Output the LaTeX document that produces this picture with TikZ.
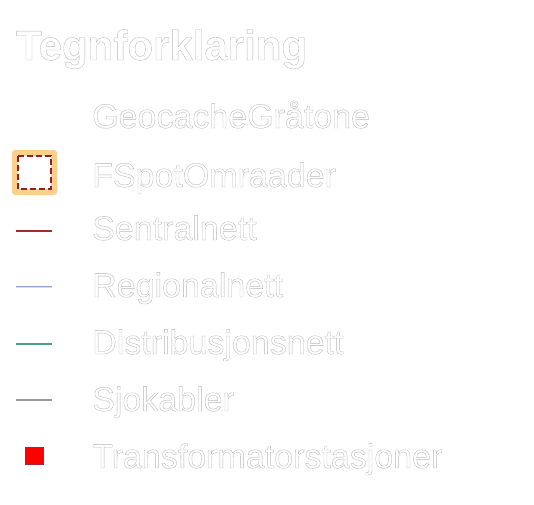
\documentclass[tikz,border=0pt]{standalone}
\usepackage{fontspec}
\setmainfont{Liberation Sans}
\definecolor{sentral}{HTML}{A52A2A}
\definecolor{regional}{HTML}{8DA8CC}
\definecolor{distrib}{HTML}{4A9E8E}
\definecolor{sjo}{HTML}{9A9A9A}
\definecolor{fspotfill}{HTML}{FAD08A}
\definecolor{fspotdash}{HTML}{9A1E1E}
\newcommand{\ghosttext}[1]{\special{pdf:literal direct 0.72 0.72 0.72 RG 0.35 w 2 Tr}#1\special{pdf:literal direct 0 Tr}}
\begin{document}
\begin{tikzpicture}[x=1pt,y=-1pt,
  lbl/.style={anchor=base west,inner sep=0pt,text=white,font=\fontsize{34}{36}\selectfont},
  ttl/.style={anchor=base west,inner sep=0pt,text=white,font=\bfseries\fontsize{42}{44}\selectfont},
  legline/.style={line width=2.2pt}]
\fill[white] (0,0) rectangle (534,504);
\useasboundingbox (0,0) rectangle (534,504);
\node[ttl] (title) at (16,60) {\ghosttext{Tegnforklaring}};
\node[lbl] (t1) at (92,128) {\ghosttext{GeocacheGråtone}};
\node[lbl] (t2) at (92,187) {\ghosttext{FSpotOmraader}};
\node[lbl] (t3) at (92,240) {\ghosttext{Sentralnett}};
\node[lbl] (t4) at (92,297) {\ghosttext{Regionalnett}};
\node[lbl] (t5) at (92,354) {\ghosttext{Distribusjonsnett}};
\node[lbl] (t6) at (92,411) {\ghosttext{Sjokabler}};
\node[lbl] (t7) at (92,468) {\ghosttext{Transformatorstasjoner}};
% FSpot symbol
\fill[fspotfill,rounded corners=3pt] (12,150) rectangle (57,195);
\fill[white] (18,156) rectangle (51,189);
\draw[fspotdash,line width=1.4pt,dash pattern=on 6pt off 3pt] (18,156) rectangle (51,189);
% lines
\draw[legline,sentral] (16,231) -- (52,231);
\draw[line width=2.8pt,regional] (16,287) -- (52,287);
\draw[line width=0.8pt,white!60!regional] (16,287) -- (52,287);
\draw[legline,distrib] (16,344) -- (52,344);
\draw[legline,sjo] (16,400) -- (52,400);
% transformer
\draw[fill=red,draw=sentral,line width=0.8pt] (25,447) rectangle (43,464);
\end{tikzpicture}
\end{document}
